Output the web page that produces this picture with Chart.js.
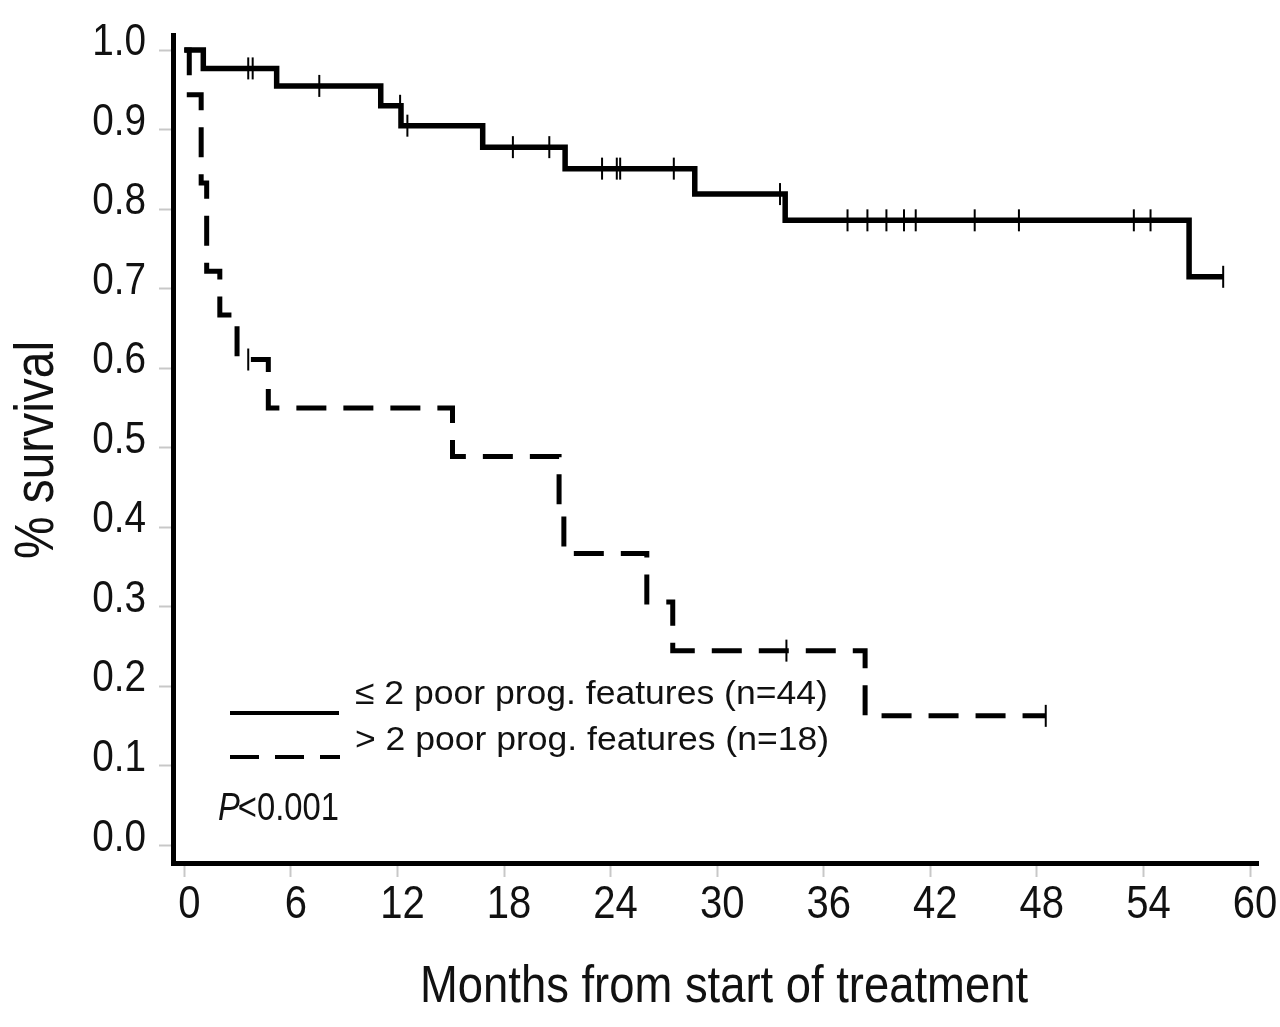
<!DOCTYPE html>
<html>
<head>
<meta charset="utf-8">
<title>Survival by poor prognostic features</title>
<script src="https://cdn.jsdelivr.net/npm/chart.js@4.4.1/dist/chart.umd.min.js"></script>
<style>
  html, body { margin: 0; padding: 0; background: #fff; }
  #wrap { width: 1280px; height: 1027px; }
</style>
</head>
<body>
<div id="wrap"><canvas id="kmChart" width="1280" height="1027"></canvas></div>
<script>
// Kaplan-Meier estimates
const xTicks = [0, 6, 12, 18, 24, 30, 36, 42, 48, 54, 60];
const yTicks = [0, 0.1, 0.2, 0.3, 0.4, 0.5, 0.6, 0.7, 0.8, 0.9, 1.0];

// <= 2 poor prognostic features (n=44)
const lowTimes = [0, 1.07, 5.2, 11.06, 12.2, 16.8, 21.44, 28.74, 33.83, 56.57, 58.49];
const lowSurv  = [1.0, 0.977, 0.955, 0.930, 0.905, 0.878, 0.851, 0.819, 0.786, 0.715, 0.715];
const lowCensored = [3.6, 3.85, 7.6, 12.15, 12.56, 18.5, 20.55, 23.52, 24.35, 24.54, 27.56,
                     33.54, 37.34, 38.46, 39.53, 40.52, 41.18, 44.5, 46.99, 53.46, 54.4, 58.49];

// > 2 poor prognostic features (n=18)
const highTimes = [0, 0.28, 0.95, 1.26, 2.0, 2.97, 4.73, 15.1, 21.1, 21.37, 26.04, 27.5, 38.33, 48.5];
const highSurv  = [1.0, 0.944, 0.833, 0.722, 0.667, 0.611, 0.55, 0.489, 0.428, 0.367, 0.306, 0.245, 0.163, 0.163];
const highCensored = [3.6, 33.9, 48.5];

const xTitle = 'Months from start of treatment';
const yTitle = '% survival';
const legendLabels = ['\u2264 2 poor prog. features (n=44)', '> 2 poor prog. features (n=18)'];
const pText = ['P', '<0.001'];

// no condensed face is installed, so text is squeezed horizontally on the canvas
const fontFamily = "'Liberation Sans', Arial, sans-serif";
const textColor = '#111';

// value of the step curve at time t
function levelAt(times, surv, t) {
    let v = surv[0];
    for (let i = 0; i < times.length; i++) {
        if (times[i] <= t) v = surv[i];
    }
    return v;
}

function toPoints(times, surv) {
    return times.map((t, i) => ({ x: t, y: surv[i] }));
}

function censorPoints(times, surv, cens) {
    return cens.map(t => ({ x: t, y: levelAt(times, surv, t) }));
}

function squeezedText(ctx, text, x, y, sx, align, rotate) {
    ctx.save();
    ctx.translate(x, y);
    if (rotate) ctx.rotate(rotate);
    ctx.scale(sx, 1);
    ctx.textAlign = align;
    ctx.fillText(text, 0, 0);
    ctx.restore();
}

// tick labels, axis titles, legend and p-value
const textLayer = {
    id: 'textLayer',
    afterDraw(chart) {
        const ctx = chart.ctx;
        const xs = chart.scales.x;
        const ys = chart.scales.y;
        ctx.save();
        ctx.fillStyle = textColor;
        ctx.textBaseline = 'alphabetic';

        ctx.font = '46px ' + fontFamily;
        xTicks.forEach(v => {
            squeezedText(ctx, String(v), xs.getPixelForValue(v) + 5, 918, 0.87, 'center');
        });

        ctx.font = '44px ' + fontFamily;
        yTicks.forEach(v => {
            squeezedText(ctx, v.toFixed(1), 146, ys.getPixelForValue(v) + 5, 0.88, 'right');
        });

        ctx.font = '52px ' + fontFamily;
        squeezedText(ctx, xTitle, 724, 1002, 0.873, 'center');

        ctx.font = '55px ' + fontFamily;
        squeezedText(ctx, yTitle, 53, 450, 0.87, 'center', -Math.PI / 2);

        // legend
        ctx.strokeStyle = '#000';
        ctx.lineWidth = 4;
        ctx.lineCap = 'butt';
        ctx.beginPath();
        ctx.moveTo(230, 713);
        ctx.lineTo(339, 713);
        ctx.stroke();

        ctx.setLineDash([29, 16]);
        ctx.beginPath();
        ctx.moveTo(230, 757);
        ctx.lineTo(340, 757);
        ctx.stroke();
        ctx.setLineDash([]);

        ctx.font = '34px ' + fontFamily;
        squeezedText(ctx, legendLabels[0], 355, 704, 1.045, 'left');
        squeezedText(ctx, legendLabels[1], 355, 750, 1.045, 'left');

        ctx.font = 'italic 39px ' + fontFamily;
        const pw = ctx.measureText(pText[0]).width * 0.84;
        squeezedText(ctx, pText[0], 218, 820, 0.84, 'left');
        ctx.font = '39px ' + fontFamily;
        squeezedText(ctx, pText[1], 218 + pw - 2, 820, 0.84, 'left');
        ctx.restore();
    }
};

const ctx = document.getElementById('kmChart').getContext('2d');

new Chart(ctx, {
    type: 'line',
    data: {
        datasets: [
            {
                label: legendLabels[0],
                data: toPoints(lowTimes, lowSurv),
                stepped: true,
                borderColor: '#000',
                borderWidth: 5.5,
                pointRadius: 0,
                fill: false
            },
            {
                label: legendLabels[1],
                data: toPoints(highTimes, highSurv),
                stepped: true,
                borderColor: '#000',
                borderWidth: 5,
                borderDash: [30, 17],
                pointRadius: 0,
                fill: false
            },
            {
                label: 'censored low',
                data: censorPoints(lowTimes, lowSurv, lowCensored),
                showLine: false,
                pointStyle: 'line',
                pointRotation: 90,
                pointRadius: 11,
                pointBorderWidth: 2,
                pointBorderColor: '#000'
            },
            {
                label: 'censored high',
                data: censorPoints(highTimes, highSurv, highCensored),
                showLine: false,
                pointStyle: 'line',
                pointRotation: 90,
                pointRadius: 11,
                pointBorderWidth: 2,
                pointBorderColor: '#000'
            }
        ]
    },
    options: {
        responsive: false,
        animation: false,
        events: [],
        layout: { padding: { top: 35, right: 22, bottom: 0, left: 0 } },
        plugins: {
            legend: { display: false },
            tooltip: { enabled: false }
        },
        scales: {
            x: {
                type: 'linear',
                min: -0.636,
                max: 60.45,
                afterBuildTicks: axis => { axis.ticks = xTicks.map(v => ({ value: v })); },
                afterFit: axis => { axis.height = 164; },
                grid: { drawOnChartArea: false, tickLength: 14, tickColor: '#c8c8c8', tickWidth: 2 },
                border: { color: '#000', width: 5 },
                ticks: { display: false }
            },
            y: {
                min: -0.022,
                max: 1.019,
                afterBuildTicks: axis => { axis.ticks = yTicks.map(v => ({ value: v })); },
                afterFit: axis => { axis.width = 173; },
                grid: { drawOnChartArea: false, tickLength: 14, tickColor: '#c8c8c8', tickWidth: 2 },
                border: { color: '#000', width: 5 },
                ticks: { display: false }
            }
        }
    },
    plugins: [textLayer]
});
</script>
</body>
</html>
